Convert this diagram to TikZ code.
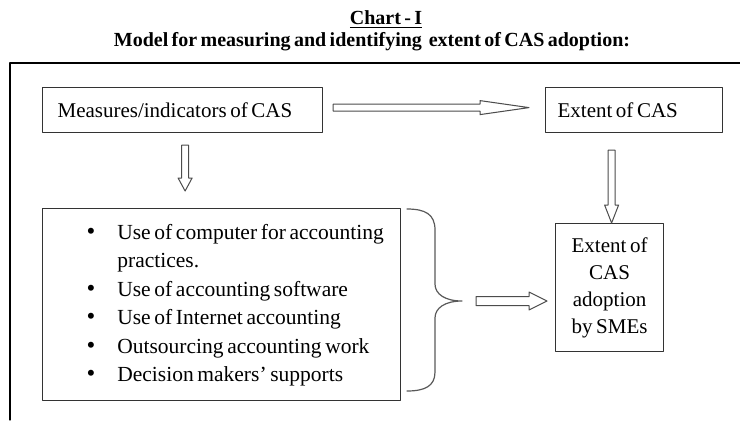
\documentclass[tikz,border=0pt]{standalone}
\usepackage{fontspec}
\setmainfont{Liberation Serif}[WordSpace=0.68]
\usepackage{xcolor}
\usetikzlibrary{positioning,calc}

\newcommand{\bigdot}{{\fontsize{12.5}{14.25}\selectfont\textbullet}}

\begin{document}
\begin{tikzpicture}[x=0.5pt, y=-0.5pt, line cap=round, line join=round,
    font=\fontsize{10.5}{13.5}\selectfont]
  \useasboundingbox (0,0) rectangle (740,420);

  % ===== styles =====
  \tikzset{
    box/.style={draw=black!80, line width=0.6pt, inner ysep=0pt},
    heading/.style={font=\fontsize{10}{12}\selectfont\bfseries},
    harrow/.style n args={3}{draw=black!70, fill=white, line width=0.5pt,
      to path={let \p1=(\tikztostart), \p2=(\tikztotarget),
        \n1={atan2(\y2-\y1,\x2-\x1)}, \n2={\n1+90}, \n3={\n1-90}, \n4={\n1+180} in
        ($(\p1)+(\n2:#1)$) -- ($(\p2)+(\n4:#3)+(\n2:#1)$) -- ($(\p2)+(\n4:#3)+(\n2:#2)$)
        -- (\p2) -- ($(\p2)+(\n4:#3)+(\n3:#2)$) -- ($(\p2)+(\n4:#3)+(\n3:#1)$)
        -- ($(\p1)+(\n3:#1)$) -- cycle}},
  }

  % ===== heading =====
  \node[heading, anchor=base] (chart) at (386,24) {\underline{Chart - I}};
  \node[heading, anchor=base] (title) at (372,46) {Model for measuring and identifying\ \ extent of CAS adoption:};

  % ===== outer frame =====
  \draw[line width=0.6pt] (10,420) -- (10,63) -- (740,63);

  % ===== boxes =====
  \node[box, anchor=north west, minimum width=140pt, minimum height=22.5pt,
    text width=125pt, inner xsep=7.5pt, align=flush left] (meas) at (42,87) {Measures/indicators of CAS};
  \node[box, anchor=north west, minimum height=22.5pt,
    text width=76.5pt, inner xsep=6pt, align=flush left] (ext) at (545,87) {Extent of CAS};
  \node[box, anchor=north west, minimum height=96pt, text width=179pt, inner xsep=0pt,
    align=flush left, font=\fontsize{10.75}{14.25}\selectfont] (uses) at (42,208)
    {\noindent\hspace*{22pt}\begin{tabular}{@{}l@{\hspace{11pt}}l@{}}
      \bigdot & Use of computer for accounting\\
              & practices.\\
      \bigdot & Use of accounting software\\
      \bigdot & Use of Internet accounting\\
      \bigdot & Outsourcing accounting work\\
      \bigdot & Decision makers’ supports
    \end{tabular}};
  \node[box, anchor=north west, minimum width=54pt, minimum height=64pt,
    align=center, inner sep=0pt] (sme) at (555,223) {Extent of\\ CAS\\ adoption\\ by SMEs};

  % ===== brace =====
  \coordinate (tip) at (462,301);
  \draw[black!65, line width=0.6pt] (407,209) .. controls (425,209) and (435,214) .. (435,230)
    -- (435,284) .. controls (435,294) and (445,301) .. (tip)
    .. controls (445,301) and (435,308) .. (435,318)
    -- (435,372) .. controls (435,386) and (425,391) .. (407,391);

  % ===== hollow arrows =====
  \draw[harrow={1.75pt}{3.5pt}{24.5pt}] ($(meas.east)+(10,-2.5)$) to ($(ext.west)+(-16,-2.5)$);
  \draw[harrow={1.75pt}{3.5pt}{6.5pt}] ($(meas.south)+(2.5,12)$) to ($(meas.south |- uses.north)+(2.5,-17)$);
  \draw[harrow={1.75pt}{3.5pt}{9pt}] ($(sme.north |- ext.south)+(2,17)$) to ($(sme.north)+(2,0)$);
  \draw[harrow={2.25pt}{4.5pt}{9pt}] ($(tip)+(14,0)$) to ($(tip -| sme.west)+(-8,0)$);
\end{tikzpicture}
\end{document}
